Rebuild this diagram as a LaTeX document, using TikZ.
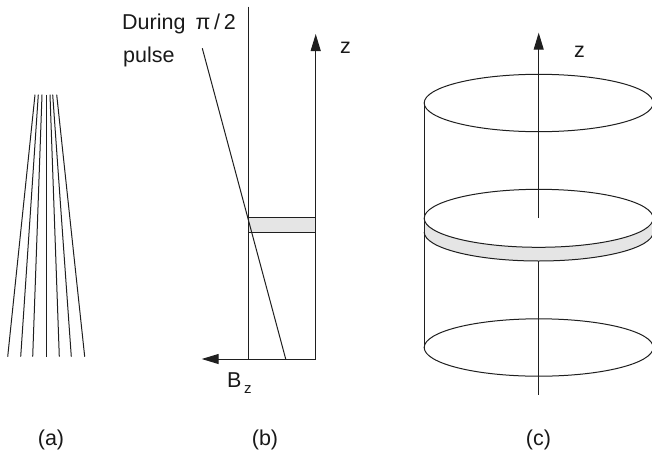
\documentclass[tikz,border=0pt]{standalone}
\usepackage{fontspec}
\setmainfont{Liberation Sans}
\usetikzlibrary{arrows.meta}
\definecolor{band}{gray}{0.9}
\tikzset{
  ln/.style={line width=1pt,draw=black!88},
  arr/.style={ln,-{Triangle[length=17pt,width=10pt]}},
  lbl/.style={font=\fontsize{21.5pt}{25pt}\selectfont,text=black!90,inner sep=0pt},
}
\begin{document}
\begin{tikzpicture}[x=1pt,y=-1pt]
\useasboundingbox (0,0) rectangle (652,455);
\clip (0,0) rectangle (652,455);
% (a)
\foreach \a/\b in {35/7.7, 38.3/20.7, 42/32.7, 46/46, 50/59.3, 52.7/71.3, 56.7/84.7}{
  \draw[ln] (\a,94.7) -- (\b,356.7);
}
\node[lbl,anchor=base] (la) at (51,445) {(a)};
% (b)
\coordinate (b1) at (248.7,6.5);
\coordinate (b2) at (248.7,359);
\coordinate (b3) at (315.7,359);
\coordinate (b4) at (315.7,34);
\coordinate (bl) at (201.7,359);
\coordinate (s1) at (202.3,48.3);
\coordinate (s2) at (285.7,359);
\fill[band] (248.7,217.7) rectangle (315.7,232.7);
\draw[ln] (248.7,217.7) rectangle (315.7,232.7);
\draw[ln] (b1) -- (b2);
\draw[arr] (b3) -- (b4);
\draw[arr] (b3) -- (bl);
\draw[ln] (s1) -- (s2);
\node[lbl,anchor=base west] (t1) at (122,29.3) {During\hspace{10pt}π\hspace{3.8pt}/\hspace{3.8pt}2};
\node[lbl,anchor=base west] (t2) at (123,62.7) {pulse};
\node[lbl,anchor=base west] (zb) at (340,53) {z};
\node[lbl,anchor=base west] (bz) at (227,387.7) {B};
\node[lbl,anchor=base west,font=\fontsize{15pt}{18pt}\selectfont] (bzs) at (244,393) {z};
\node[lbl,anchor=base] (lb) at (265,445) {(b)};
% (c)
\fill[band] (424.2,218.3) -- (424.2,232) arc[start angle=180,end angle=0,x radius=114.5,y radius=29] -- (653.2,218.3) -- cycle;
\draw[ln] (424.2,103) -- (424.2,347.5);
\draw[ln] (538.7,103) ellipse[x radius=114.5,y radius=28.7];
\draw[ln] (424.2,232) arc[start angle=180,end angle=0,x radius=114.5,y radius=29];
\draw[ln,fill=white] (538.7,218.3) ellipse[x radius=114.5,y radius=29];
\draw[ln] (538.7,347.5) ellipse[x radius=114.5,y radius=28.7];
\draw[arr] (538.7,218) -- (538.7,32.7);
\draw[ln] (538.7,261) -- (538.7,395);
\node[lbl,anchor=base west] (zc) at (574,57) {z};
\node[lbl,anchor=base] (lc) at (538.5,445) {(c)};
\end{tikzpicture}
\end{document}
